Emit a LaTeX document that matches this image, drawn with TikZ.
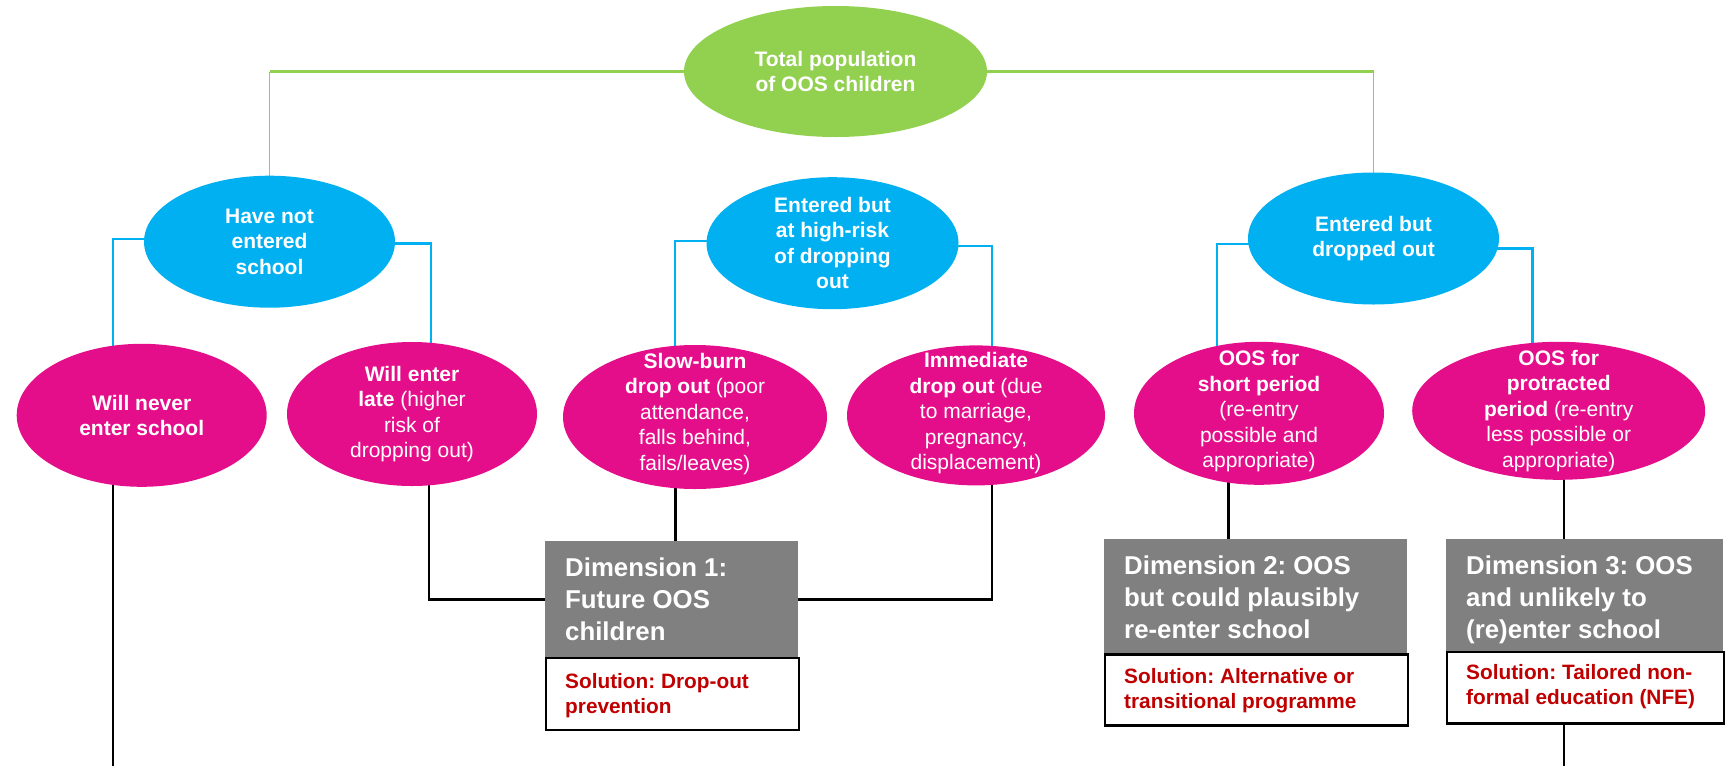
\documentclass[tikz,border=0pt]{standalone}
\usepackage{fontspec}
\setmainfont{Liberation Sans}
\usetikzlibrary{shapes.geometric,backgrounds}
\definecolor{rootgreen}{RGB}{146,208,80}
\definecolor{skyblue}{RGB}{0,176,240}
\definecolor{pinkmag}{RGB}{229,14,138}
\definecolor{boxgray}{RGB}{128,128,128}
\definecolor{solred}{RGB}{192,0,0}
\frenchspacing
\tikzset{
  ell/.style={ellipse, inner sep=0pt, draw=none},
  rootell/.style={ell, fill=rootgreen},
  blueell/.style={ell, fill=skyblue},
  magell/.style={ell, fill=pinkmag},
  etxt/.style={text=white, align=center, inner sep=0pt, font=\fontsize{21}{25.5}\selectfont},
  gbox/.style={rectangle, fill=boxgray, inner sep=0pt, anchor=north west},
  sbox/.style={rectangle, fill=white, draw=black, line width=2.2pt, inner sep=0pt, anchor=north west},
  dtxt/.style={text=white, align=left, inner sep=0pt, anchor=north west, font=\fontsize{25.8}{32}\selectfont\bfseries},
  stxt/.style={text=solred, align=left, inner sep=0pt, anchor=north west, font=\fontsize{20.8}{24.5}\selectfont\bfseries},
  ghline/.style={draw=rootgreen, line width=3pt},
  gvline/.style={draw=rootgreen, line width=1.7pt},
  bline/.style={draw=skyblue, line width=2.4pt},
  kline/.style={draw=black, line width=2.7pt},
}
\begin{document}
\frenchspacing
\begin{tikzpicture}[x=1pt,y=-1pt]
\useasboundingbox (0,0) rectangle (1734,766);
% ellipses
\node[rootell, minimum width=303pt, minimum height=131pt] (root) at (835.5,71.5) {};
\node[blueell, minimum width=251pt, minimum height=132pt] (b1) at (269.5,241.7) {};
\node[blueell, minimum width=252pt, minimum height=132pt] (b2) at (832.5,243.2) {};
\node[blueell, minimum width=251pt, minimum height=132pt] (b3) at (1373.5,238.5) {};
\node[magell, minimum width=250pt, minimum height=143pt] (m1) at (141.7,415.3) {};
\node[magell, minimum width=250pt, minimum height=144pt] (m2) at (412,414) {};
\node[magell, minimum width=264pt, minimum height=144pt] (m3) at (695,417) {};
\node[magell, minimum width=258pt, minimum height=140pt] (m4) at (976,415.4) {};
\node[magell, minimum width=250pt, minimum height=143pt] (m5) at (1259,413.3) {};
\node[magell, minimum width=293pt, minimum height=138pt] (m6) at (1558.7,410.8) {};
% texts in ellipses
\node[etxt] (troot) at (root) {\textbf{Total population}\\\textbf{of OOS children}};
\node[etxt] (tb1) at (b1) {\textbf{Have not}\\\textbf{entered}\\\textbf{school}};
\node[etxt] (tb2) at (b2) {\textbf{Entered but}\\\textbf{at high-risk}\\\textbf{of dropping}\\\textbf{out}};
\node[etxt] (tb3) at (b3) {\textbf{Entered but}\\\textbf{dropped out}};
\node[etxt] (tm1) at (m1) {\textbf{Will never}\\\textbf{enter school}};
\node[etxt] (tm2) at (m2) {\textbf{Will enter}\\\textbf{late} (higher\\risk of\\dropping out)};
\node[etxt] (tm3) at ([yshift=3pt]m3.center) {\textbf{Slow-burn}\\\textbf{drop out} (poor\\attendance,\\falls behind,\\fails/leaves)};
\node[etxt] (tm4) at ([yshift=2pt]m4.center) {\textbf{Immediate}\\\textbf{drop out} (due\\to marriage,\\pregnancy,\\displacement)};
\node[etxt] (tm5) at ([yshift=2pt]m5.center) {\textbf{OOS for}\\\textbf{short period}\\(re-entry\\possible and\\appropriate)};
\node[etxt] (tm6) at (m6) {\textbf{OOS for}\\\textbf{protracted}\\\textbf{period} (re-entry\\less possible or\\appropriate)};
% dimension boxes
\node[gbox, minimum width=252.7pt, minimum height=115.7pt] (g1) at (545,541) {};
\node[sbox, minimum width=252.7pt, minimum height=72.3pt] (s1) at (545,656.7) {};
\node[gbox, minimum width=302.7pt, minimum height=115pt] (g2) at (1104,538.3) {};
\node[sbox, minimum width=302.7pt, minimum height=71pt] (s2) at (1104,653.3) {};
\node[gbox, minimum width=276.7pt, minimum height=111.7pt] (g3) at (1446,539) {};
\node[sbox, minimum width=276.7pt, minimum height=71.6pt] (s3) at (1446,650.7) {};
\node[dtxt] (tg1) at ([xshift=20pt,yshift=-17pt]g1.north west) {Dimension 1:\\Future OOS\\children};
\node[dtxt] (tg2) at ([xshift=20pt,yshift=-17pt]g2.north west) {Dimension 2: OOS\\but could plausibly\\re-enter school};
\node[dtxt] (tg3) at ([xshift=20pt,yshift=-17pt]g3.north west) {Dimension 3: OOS\\and unlikely to\\(re)enter school};
\node[stxt] (ts1) at ([xshift=20pt,yshift=-17pt]s1.north west) {Solution: Drop-out\\prevention};
\node[stxt] (ts2) at ([xshift=20pt,yshift=-15pt]s2.north west) {Solution: Alternative or\\transitional programme};
\node[stxt] (ts3) at ([xshift=20pt,yshift=-14pt]s3.north west) {Solution: Tailored non-\\formal education (NFE)};
% connector coordinates
\coordinate (j1) at (112.8,238.7);
\coordinate (j2) at (431,243.3);
\coordinate (j3) at (674.8,240.7);
\coordinate (j4) at (991.7,246);
\coordinate (j5) at (1216.8,244);
\coordinate (j6) at (1532.3,248.3);
\coordinate (k1) at (113,766);
\coordinate (k2) at (429,599.3);
\coordinate (k3) at (675.5,0);
\coordinate (k4) at (992,599.3);
\coordinate (k5) at (1228.5,0);
\coordinate (k6) at (1564,766);
\begin{pgfonlayer}{background}
  % green
  \draw[ghline] (root.center) -- (root.center -| b1.center);
  \draw[gvline] (root.center -| b1.center) -- (b1.center);
  \draw[ghline] (root.center) -- (root.center -| b3.center);
  \draw[gvline] (root.center -| b3.center) -- (b3.center);
  % blue
  \draw[bline] (j1 -| b1.center) -- (j1) -- (j1 |- m1.center);
  \draw[bline] (j2 -| b1.center) -- (j2) -- (j2 |- m2.center);
  \draw[bline] (j3 -| b2.center) -- (j3) -- (j3 |- m3.center);
  \draw[bline] (j4 -| b2.center) -- (j4) -- (j4 |- m4.center);
  \draw[bline] (j5 -| b3.center) -- (j5) -- (j5 |- m5.center);
  \draw[bline] (j6 -| b3.center) -- (j6) -- (j6 |- m6.center);
  % black
  \draw[kline] (k1 |- m1.center) -- (k1);
  \draw[kline] (k2 |- m2.center) -- (k2) -- (k2 -| g1.center);
  \draw[kline] (k3 |- m3.center) -- (k3 |- g1.center);
  \draw[kline] (k4 |- m4.center) -- (k4) -- (k4 -| g1.center);
  \draw[kline] (k5 |- m5.center) -- (k5 |- g2.center);
  \draw[kline] (k6 |- m6.center) -- (k6);
\end{pgfonlayer}
\end{tikzpicture}
\end{document}
